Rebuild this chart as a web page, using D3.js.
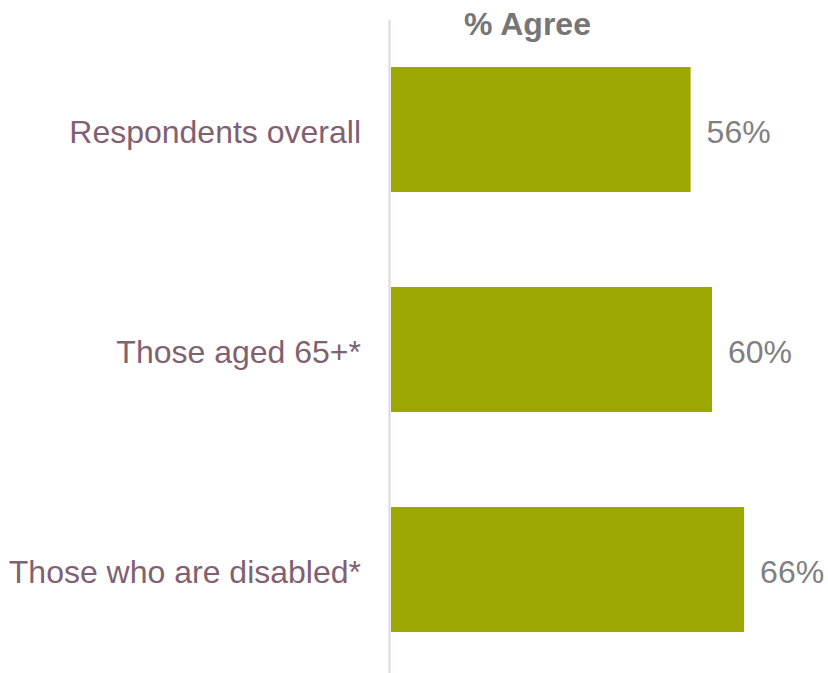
<!DOCTYPE html>
<html><head><meta charset="utf-8">
<script src="https://cdn.jsdelivr.net/npm/d3@7"></script>
<style>html,body{margin:0;padding:0;background:#fff;}</style>
</head><body>
<svg id="c" width="828" height="673"></svg>
<script>
const categories = ["Respondents overall", "Those aged 65+*", "Those who are disabled*"];
const values = [56, 60, 66];
const title = "% Agree";

const svg = d3.select("#c");
const font = "'Liberation Sans', Arial, sans-serif";
const x = d3.scaleLinear().domain([0, 100]).range([391, 926]);
const y = d3.scaleBand().domain(categories).range([19.5, 679.5]).paddingInner(0.432).paddingOuter(0.216);

svg.selectAll("rect.bar").data(categories).join("rect")
  .attr("class","bar")
  .attr("x", x(0))
  .attr("y", d => y(d))
  .attr("width", (d,i) => x(values[i]) - x(0))
  .attr("height", y.bandwidth())
  .attr("fill", "#9ca703");

svg.append("line").attr("x1",389.5).attr("x2",389.5).attr("y1",20).attr("y2",673)
  .attr("stroke","#ddd6da").attr("stroke-width",2);

svg.selectAll("text.cat").data(categories).join("text")
  .attr("class","cat")
  .attr("x", 361)
  .attr("y", d => y(d) + y.bandwidth()/2 + 2)
  .attr("dy","0.35em")
  .attr("text-anchor","end")
  .attr("font-family", font).attr("font-size", 32)
  .attr("fill","#7f6172")
  .text(d => d);

svg.selectAll("text.val").data(categories).join("text")
  .attr("class","val")
  .attr("x", (d,i) => x(values[i]) + 16)
  .attr("y", d => y(d) + y.bandwidth()/2 + 2)
  .attr("dy","0.35em")
  .attr("font-family", font).attr("font-size", 32)
  .attr("fill","#808080")
  .text((d,i) => values[i] + "%");

svg.append("text").attr("x", 527.5).attr("y", 35)
  .attr("text-anchor","middle")
  .attr("font-family", font).attr("font-size", 32).attr("font-weight","bold")
  .attr("fill","#767676")
  .text(title);
</script>
</body></html>
